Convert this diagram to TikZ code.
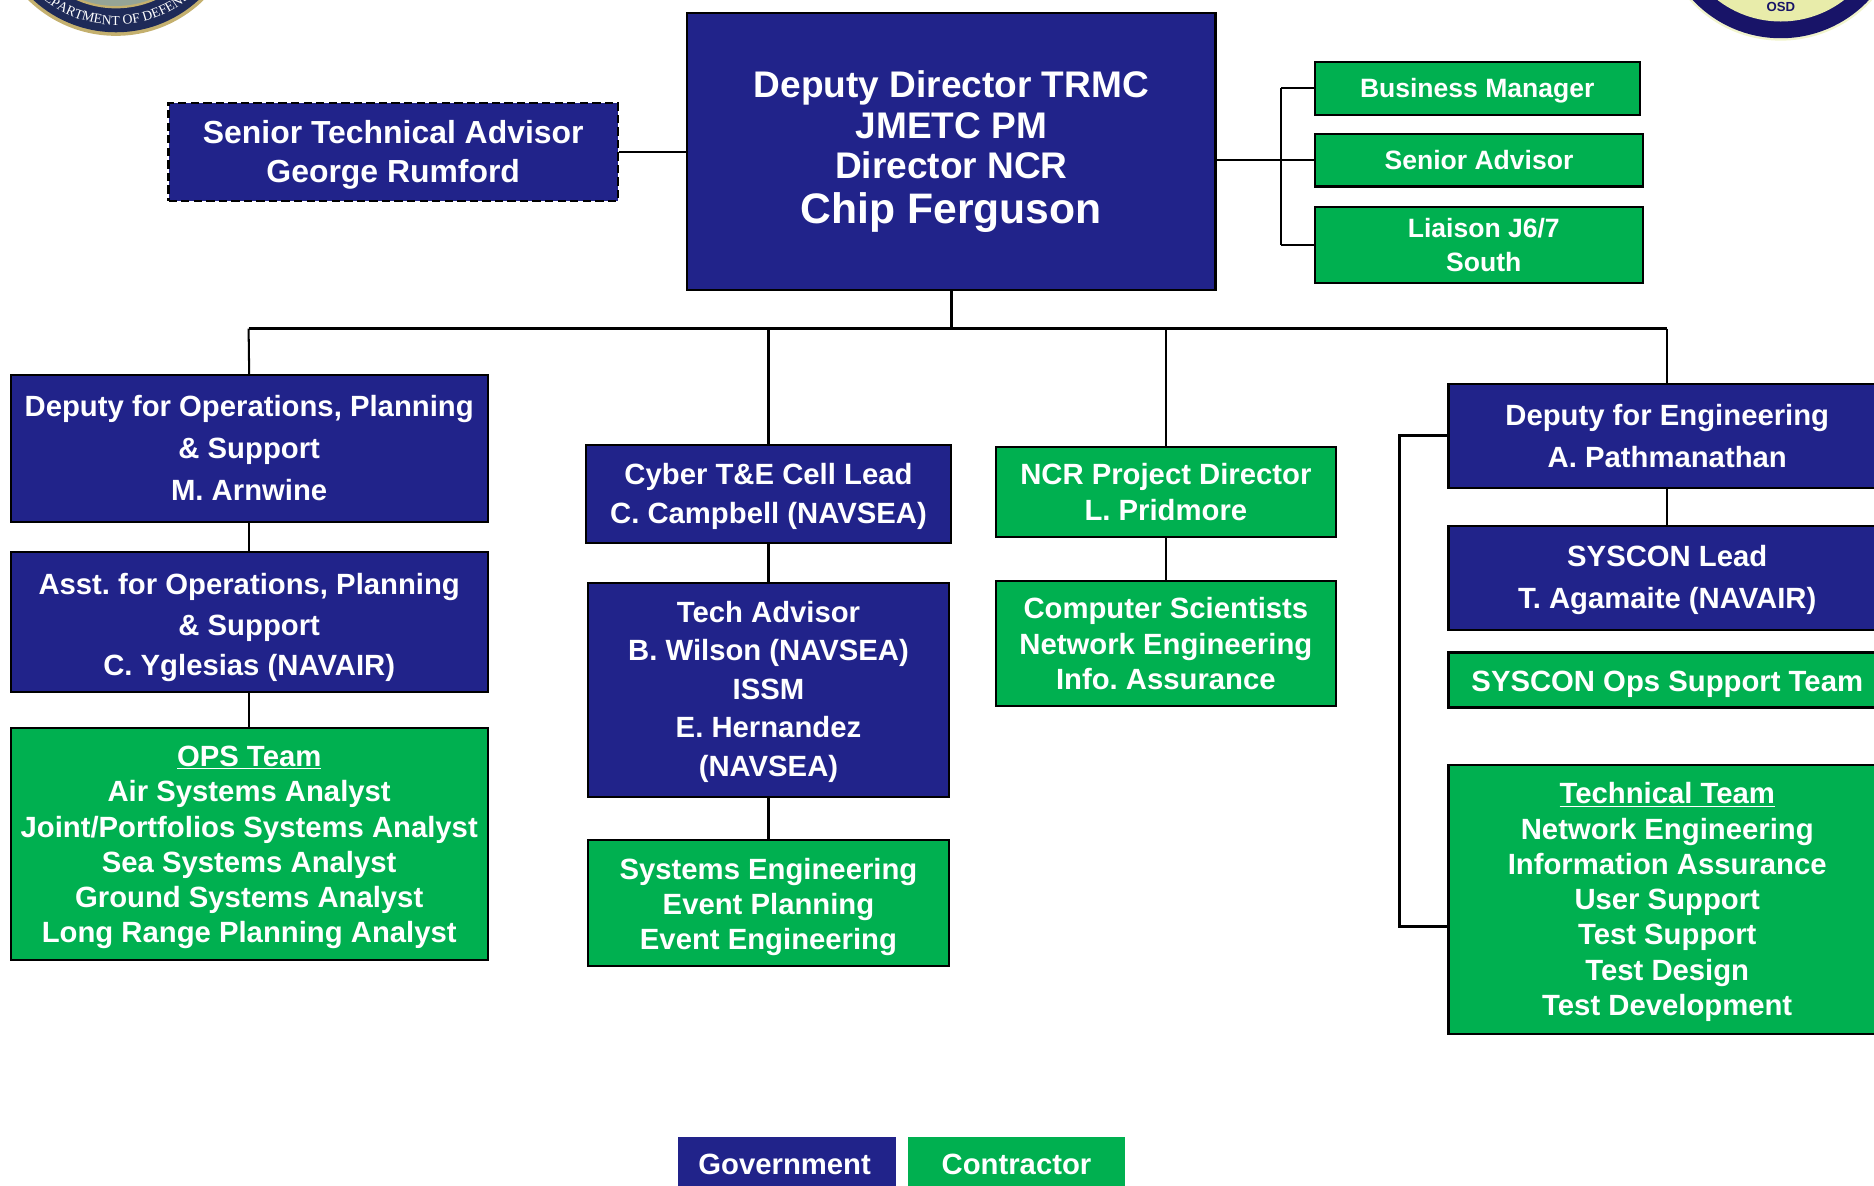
\documentclass[tikz,border=0pt]{standalone}
\usepackage{fontspec}
\setmainfont{Liberation Sans}
\newfontfamily\sealfont{Liberation Serif}
\usetikzlibrary{calc,decorations.text}
\definecolor{navy}{RGB}{33,35,138}
\definecolor{grn}{RGB}{0,176,80}
\definecolor{sealnavy}{RGB}{24,20,104}
\definecolor{sealcream}{RGB}{232,236,170}
\definecolor{sealgold}{RGB}{196,176,110}
\definecolor{sealblue}{RGB}{30,42,88}
\definecolor{sealgrey}{RGB}{150,165,150}
\tikzset{
  x=1pt,y=-1pt,
  gov/.style={draw=black,fill=navy,line width=1.8pt},
  con/.style={draw=black,fill=grn,line width=1.8pt},
  govdash/.style={gov,dash pattern=on 7pt off 3.5pt},
  plaingov/.style={fill=navy},
  plaincon/.style={fill=grn},
  orgtext/.style={text=white,align=center,inner sep=0pt},
  link/.style={draw=black,line width=1.7pt},
  thick link/.style={draw=black,line width=2.2pt}
}
\newcommand{\orgbox}[8]{%
  \pgfmathsetmacro{\boxcx}{(#2+#4)/2}\pgfmathsetmacro{\boxcy}{(#3+#5)/2}%
  \pgfmathsetmacro{\boxw}{#4-#2}\pgfmathsetmacro{\boxh}{#5-#3}%
  \node[orgtext,#6,font=\bfseries\fontsize{#7}{#7}\selectfont\frenchspacing,minimum width=\boxw pt,minimum height=\boxh pt] (#1) at (\boxcx,\boxcy) {#8};%
}
\newcommand{\orgdn}[1]{\rule{0pt}{#1pt}}
\begin{document}
\begin{tikzpicture}
\useasboundingbox (0,0) rectangle (1568,992);
\clip (0,0) rectangle (1568,992);
% seals
\fill[sealgold] (97,-75) circle[radius=105pt];
\fill[sealblue] (97,-75) circle[radius=102pt];
\fill[sealgold] (97,-75) circle[radius=82pt];
\fill[sealgrey] (97,-75) circle[radius=80pt];
\path[decorate,decoration={text along path,text align=center,
  text={|\fontsize{11.5}{11.5}\selectfont\sealfont\color{white}|DEPARTMENT OF DEFENSE}}]
  (1,-75) arc[start angle=180,end angle=360,radius=96pt];
\fill[sealcream!60!white] (1490,-69) circle[radius=103pt];
\fill[sealnavy] (1490,-69) circle[radius=101pt];
\fill[sealcream] (1490,-69) circle[radius=87pt];
\node[text=sealnavy,font=\bfseries,inner sep=0pt] (osd) at (1490,6) {\fontsize{11}{11}\selectfont OSD};
% top row
\orgbox{main}{575}{11}{1017}{243}{gov}{31}{Deputy Director TRMC\\[3pt]JMETC PM\\[2.5pt]Director NCR\\[6.5pt]\fontsize{35.7}{35.7}\selectfont Chip Ferguson}
\orgbox{sta}{141}{86}{517}{168}{govdash}{26.7}{\orgdn{24}Senior Technical Advisor\\[6.3pt]George Rumford}
\orgbox{biz}{1100}{52}{1372}{96}{con}{22.2}{\orgdn{20.6}Business Manager}
\orgbox{adv}{1100}{112}{1375}{156}{con}{22.2}{Senior Advisor}
\orgbox{lia}{1100}{173}{1375}{237}{con}{22.2}{\hspace*{8pt}Liaison J6/7\\[5.5pt]\hspace*{8pt}South}
% left column
\orgbox{dops}{9}{314}{408}{437}{gov}{24.5}{Deputy for Operations, Planning\\[10.5pt]\& Support\\[10.5pt]M. Arnwine\rule[-2pt]{0pt}{2pt}}
\orgbox{aops}{9}{462}{408}{579}{gov}{24.5}{\orgdn{26.4}Asst. for Operations, Planning\\[10pt]\& Support\\[8.5pt]C. Yglesias (NAVAIR)}
\orgbox{ops}{9}{609}{408}{803}{con}{24.5}{\orgdn{23.4}\underline{OPS Team}\\[5pt]Air Systems Analyst\\[5pt]Joint/Portfolios Systems Analyst\\[5pt]Sea Systems Analyst\\[5pt]Ground Systems Analyst\\[5pt]Long Range Planning Analyst}
% second column
\orgbox{cyb}{490}{372}{796}{454}{gov}{24.5}{\orgdn{22.4}Cyber T\&E Cell Lead\\[7.5pt]C. Campbell (NAVSEA)}
\orgbox{tech}{492}{488}{794}{667}{gov}{24.5}{\orgdn{20.4}Tech Advisor\\[7.7pt]B. Wilson (NAVSEA)\\[7.7pt]ISSM\\[7.7pt]E. Hernandez\\[7.7pt](NAVSEA)}
\orgbox{syse}{492}{703}{794}{808}{con}{24.5}{\orgdn{24.4}Systems Engineering\\[5pt]Event Planning\\[5pt]Event Engineering}
% third column
\orgbox{ncr}{833}{374}{1118}{449}{con}{24.5}{NCR Project Director\\[5.5pt]L. Pridmore}
\orgbox{csci}{833}{486}{1118}{591}{con}{24.5}{Computer Scientists\\[5pt]Network Engineering\\[5pt]Info. Assurance}
% right column
\orgbox{deng}{1212}{321}{1578}{408}{gov}{24.5}{Deputy for Engineering\\[10.5pt]A. Pathmanathan}
\orgbox{syl}{1212}{440}{1578}{527}{gov}{24.5}{\orgdn{21.4}SYSCON Lead\\[11pt]T. Agamaite (NAVAIR)}
\orgbox{syo}{1212}{546}{1578}{592}{con}{24.5}{\orgdn{24.4}SYSCON Ops Support Team}
\orgbox{ttm}{1212}{640}{1578}{865}{con}{24.5}{\orgdn{22.4}\underline{Technical Team}\\[5pt]Network Engineering\\[5pt]Information Assurance\\[5pt]User Support\\[5pt]Test Support\\[5pt]Test Design\\[5pt]Test Development}
% legend
\orgbox{lgov}{567}{951}{750}{1034}{plaingov}{24.5}{\raisebox{37pt}{Government}\hspace*{4pt}}
\orgbox{lcon}{760}{951}{941}{1034}{plaincon}{24.5}{\raisebox{37pt}{Contractor}}
% connectors
\coordinate (busL) at (208,275);
\coordinate (busR) at (1395,275);
\coordinate (rail) at (1072,134);
\coordinate (brk) at (1171,775);
\draw[link] (sta.east|-0,127) -- (main.west|-0,127);
\draw[link] (main.east|-rail) -- (rail);
\draw[link] (rail|-biz.west) -- (rail|-lia.west);
\draw[link] (rail|-biz.west) -- (biz.west);
\draw[link] (rail) -- (adv.west|-rail);
\draw[link] (rail|-lia.west) -- (lia.west);
\draw[thick link] (main.south) -- (main.south|-busL);
\draw[thick link] (busL) -- (busR);
\draw[link] (busL) -- (dops.north);
\draw[link] (dops.south) -- (aops.north);
\draw[link] (aops.south) -- (ops.north);
\draw[link] (cyb.north|-busL) -- (cyb.north);
\draw[link] (cyb.south) -- (tech.north);
\draw[link] (tech.south) -- (syse.north);
\draw[thick link] (ncr.north|-busL) -- (ncr.north);
\draw[thick link] (ncr.south) -- (csci.north);
\draw[link] (busR) -- (deng.north);
\draw[link] (deng.south) -- (syl.north);
\draw[thick link] (deng.west) -| (brk) -- (ttm.west|-brk);
\end{tikzpicture}
\end{document}
